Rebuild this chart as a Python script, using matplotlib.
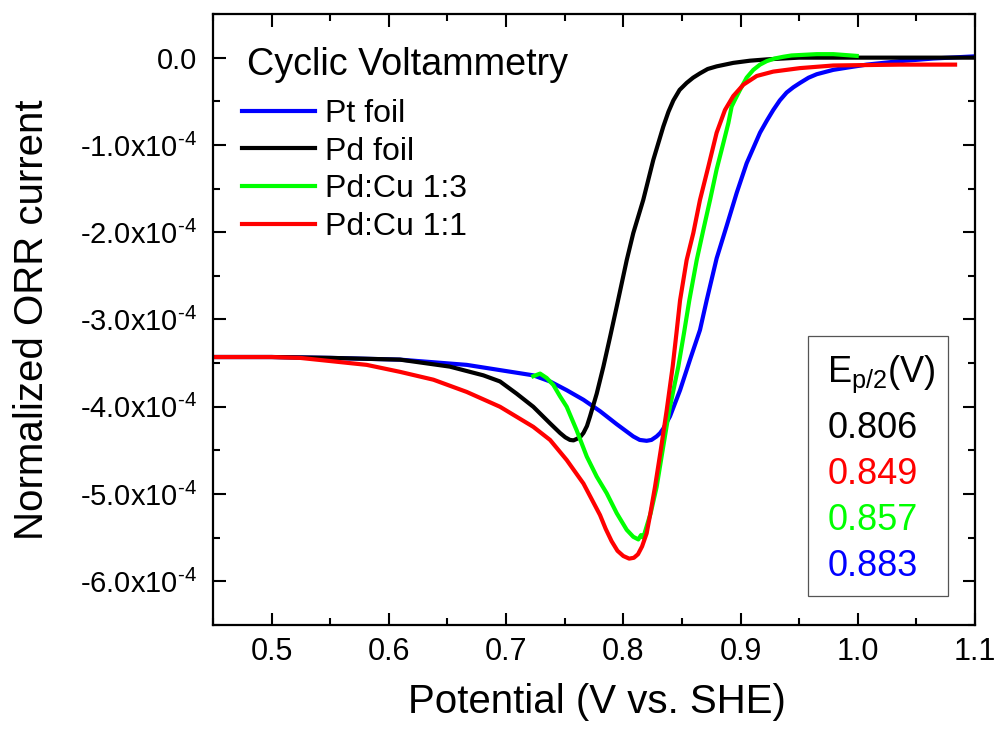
"""ORR voltammetry: Pt/Pd foils vs. Pd:Cu alloys, with E_p/2 summary box."""
import matplotlib
matplotlib.use("Agg")
import matplotlib.pyplot as plt
from matplotlib.patches import Rectangle
from matplotlib.ticker import MultipleLocator, FuncFormatter

plt.rcParams["font.family"] = ["Liberation Sans", "DejaVu Sans"]
plt.rcParams["mathtext.fontset"] = "custom"
plt.rcParams["mathtext.rm"] = "Liberation Sans"
plt.rcParams["mathtext.it"] = "Liberation Sans"
plt.rcParams["mathtext.default"] = "regular"

# potential (V vs SHE) / current (units of 1e-4)
pt_v = [0.45, 0.50, 0.55, 0.6095, 0.6664, 0.6948, 0.7232, 0.7375, 0.7517, 0.766,
        0.7801, 0.7944, 0.8085, 0.814, 0.8199, 0.824, 0.8284, 0.8315, 0.8341,
        0.8398, 0.8484, 0.8569, 0.8654, 0.8711, 0.8796, 0.8881, 0.8967, 0.9052,
        0.9166, 0.9225, 0.9279, 0.9335, 0.9393, 0.945, 0.9507, 0.958, 0.965,
        0.9791, 0.993, 1.0076, 1.036, 1.0645, 1.1]
pt_i = [-3.43, -3.43, -3.44, -3.46, -3.52, -3.58, -3.64, -3.71, -3.81, -3.92,
        -4.05, -4.20, -4.34, -4.38, -4.39, -4.38, -4.34, -4.30, -4.25,
        -4.11, -3.81, -3.46, -3.12, -2.78, -2.30, -1.93, -1.55, -1.21,
        -0.86, -0.72, -0.60, -0.49, -0.40, -0.34, -0.29, -0.23, -0.19,
        -0.14, -0.11, -0.08, -0.04, -0.01, 0.015]

pd_v = [0.45, 0.50, 0.55, 0.6095, 0.652, 0.6806, 0.6948, 0.709, 0.7232, 0.7375,
        0.746, 0.7505, 0.7545, 0.7575, 0.760, 0.763, 0.766, 0.769, 0.7716, 0.7773,
        0.783, 0.7887, 0.7944, 0.8029, 0.8085, 0.817, 0.8256, 0.8341, 0.8385,
        0.8427, 0.848, 0.854, 0.8595, 0.8654, 0.872, 0.8796, 0.8938, 0.908,
        0.9223, 0.95, 1.1]
pd_i = [-3.43, -3.43, -3.44, -3.46, -3.54, -3.64, -3.71, -3.85, -4.00, -4.19,
        -4.30, -4.35, -4.38, -4.385, -4.37, -4.35, -4.30, -4.22, -4.11, -3.85,
        -3.54, -3.20, -2.85, -2.32, -2.01, -1.63, -1.17, -0.79, -0.62,
        -0.49, -0.37, -0.29, -0.23, -0.18, -0.13, -0.10, -0.06, -0.035,
        -0.02, 0.0, 0.0]

cu13_v = [0.7232, 0.729, 0.7346, 0.7403, 0.746, 0.7517, 0.7602, 0.7688, 0.7773,
          0.7858, 0.7944, 0.8029, 0.8085, 0.8128, 0.8151, 0.817, 0.8199, 0.8233,
          0.8284, 0.8335, 0.8392, 0.8469, 0.8517, 0.8563, 0.8626, 0.8683, 0.874,
          0.8796, 0.8853, 0.8896, 0.8924, 0.8953, 0.8995, 0.9052, 0.9109, 0.9166,
          0.9223, 0.929, 0.9365, 0.9435, 0.9507, 0.965, 0.9791, 0.9991]
cu13_i = [-3.65, -3.62, -3.67, -3.75, -3.88, -4.00, -4.27, -4.57, -4.80,
          -4.99, -5.22, -5.41, -5.49, -5.52, -5.47, -5.50, -5.37, -5.22,
          -4.92, -4.50, -4.04, -3.54, -3.16, -2.78, -2.32, -1.97, -1.63,
          -1.28, -0.98, -0.75, -0.56, -0.48, -0.37, -0.23, -0.14, -0.08,
          -0.04, -0.01, 0.01, 0.025, 0.03, 0.04, 0.04, 0.02]

cu11_v = [0.45, 0.50, 0.5242, 0.5811, 0.6095, 0.638, 0.6664, 0.6948, 0.7232, 0.7375,
          0.7517, 0.766, 0.7801, 0.785, 0.790, 0.795, 0.800, 0.805, 0.809, 0.8125,
          0.816, 0.8199, 0.8227, 0.827, 0.8319, 0.837, 0.8421, 0.8453, 0.8484,
          0.854, 0.8597, 0.8654, 0.8725, 0.8796, 0.8867, 0.8938, 0.9024, 0.9138,
          0.9279, 0.9507, 0.9791, 1.036, 1.083]
cu11_i = [-3.43, -3.43, -3.44, -3.52, -3.60, -3.69, -3.83, -4.00, -4.23, -4.38,
          -4.61, -4.88, -5.24, -5.40, -5.54, -5.65, -5.71, -5.74, -5.73, -5.69,
          -5.60, -5.45, -5.25, -4.92, -4.50, -4.04, -3.54, -3.16, -2.78,
          -2.32, -2.01, -1.63, -1.25, -0.86, -0.60, -0.44, -0.31, -0.21,
          -0.16, -0.12, -0.09, -0.08, -0.08]

series = [
    ("Pt foil", pt_v, pt_i, "#0000ff"),
    ("Pd foil", pd_v, pd_i, "#000000"),
    ("Pd:Cu 1:3", cu13_v, cu13_i, "#00ff00"),
    ("Pd:Cu 1:1", cu11_v, cu11_i, "#ff0000"),
]

# half-wave potentials, listed in the box top to bottom
ep_labels = ["0.806", "0.849", "0.857", "0.883"]
ep_colors = ["#000000", "#ff0000", "#00ff00", "#0000ff"]

fig = plt.figure(figsize=(9.95, 7.29), dpi=100)
ax = fig.add_axes([0.2141, 0.1427, 0.7658, 0.8381])

for name, v, i, c in series:
    ax.plot(v, [k * 1e-4 for k in i], color=c, lw=3, label=name,
            solid_joinstyle="round")

ax.set_xlim(0.45, 1.1)
ax.set_ylim(-6.5e-4, 0.5e-4)
ax.xaxis.set_major_locator(MultipleLocator(0.1))
ax.xaxis.set_minor_locator(MultipleLocator(0.05))
ax.yaxis.set_major_locator(MultipleLocator(1e-4))
ax.yaxis.set_minor_locator(MultipleLocator(0.5e-4))


def ylab(val, pos):
    m = round(val / 1e-4, 1)
    if abs(m) < 1e-9:
        return "0.0"
    return f"{m:.1f}x10" + r"$^{\text{-}4}$"


ax.yaxis.set_major_formatter(FuncFormatter(ylab))
ax.xaxis.set_major_formatter(FuncFormatter(lambda v, p: f"{v:.1f}"))

ax.tick_params(which="both", direction="in", top=True, right=True, width=1.5)
ax.tick_params(which="major", length=9)
ax.tick_params(which="minor", length=5)
ax.tick_params(axis="y", pad=11.5, labelsize=21)
ax.tick_params(axis="x", pad=9, labelsize=22)
for s in ax.spines.values():
    s.set_linewidth(1.6)

ax.set_xlabel("Potential (V vs. SHE)", fontsize=29)
ax.set_ylabel("Normalized ORR current", fontsize=29)
ax.xaxis.set_label_coords(0.504, -0.095)
ax.yaxis.set_label_coords(-0.213, 0.5)

ax.text(0.0446, 0.900, "Cyclic Voltammetry", transform=ax.transAxes,
        fontsize=27.2, va="baseline", ha="left")
ax.legend(fontsize=23, loc="upper left", bbox_to_anchor=(0.038, 0.861),
          frameon=False, handlelength=2.3, handletextpad=0.3,
          labelspacing=0.24, borderpad=0, borderaxespad=0)

# E_p/2 summary box
ax.add_patch(Rectangle((0.781, 0.0475), 0.1836, 0.4255, transform=ax.transAxes,
                       fill=False, edgecolor="#555555", lw=0.9))
ax.text(0.806, 0.3977, r"E$_{\rm p/2}$(V)", transform=ax.transAxes,
        fontsize=26, va="baseline", ha="left")
for k, (lab, c) in enumerate(zip(ep_labels, ep_colors)):
    ax.text(0.806, 0.306 - k * 0.0753, lab, color=c, transform=ax.transAxes,
            fontsize=26, va="baseline", ha="left")

fig.savefig("out.png", dpi=100)
